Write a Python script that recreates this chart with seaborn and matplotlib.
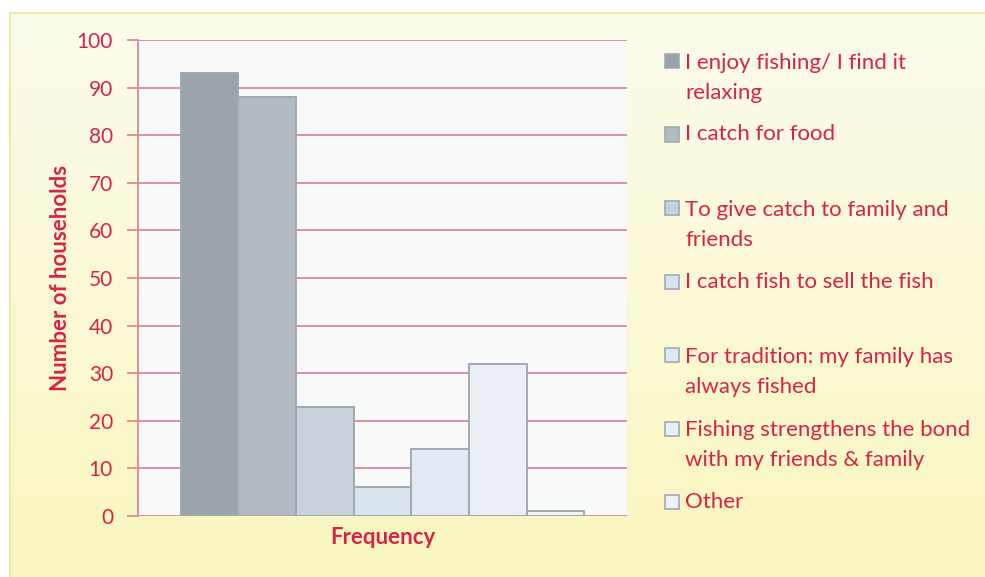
import matplotlib.pyplot as plt
import matplotlib.patches as mpatches
import numpy as np
import pandas as pd
import seaborn as sb

# data
reasons = ['I enjoy fishing/ I find it\nrelaxing',
           'I catch for food',
           'To give catch to family and\nfriends',
           'I catch fish to sell the fish',
           'For tradition: my family has\nalways fished',
           'Fishing strengthens the bond\nwith my friends & family',
           'Other']
households = [93, 88, 23, 6, 14, 32, 1]
bar_colors = ['#99a3ad', '#b0bac4', '#c6d2de', '#d7e4f1', '#dfe9f5', '#e8eff8', '#edf2fa']
y_ticks = [0, 10, 20, 30, 40, 50, 60, 70, 80, 90, 100]

text_red = '#d6234a'
grid_red = '#dc8a96'
edge_gray = '#a0aab4'

sb.set_style('white')
plt.rcParams['font.family'] = ['Lato', 'DejaVu Sans']

df = pd.DataFrame({'group': ['Frequency'] * len(reasons), 'reason': reasons, 'value': households})

fig = plt.figure(figsize=(9.85, 5.77), dpi=100)
fig.patch.set_facecolor('white')

# yellow gradient panel behind the chart (runs off the right and bottom edges)
bg = fig.add_axes([10 / 985, -0.01, 1.0, 1 - 13 / 577 + 0.01], zorder=-1)
grad = np.linspace(0, 1, 256)[:, None]
top = np.array([252, 252, 236]) / 255
bottom = np.array([250, 246, 190]) / 255
img = top[None, None, :] * (1 - grad[:, :, None]) + bottom[None, None, :] * grad[:, :, None]
bg.imshow(img, aspect='auto', extent=[0, 1, 0, 1])
bg.set_xticks([])
bg.set_yticks([])
for s in bg.spines.values():
    s.set_color('#f2e8a8')
    s.set_linewidth(1.5)

ax = fig.add_axes([138 / 985, 61 / 577, 489 / 985, 476 / 577])
ax.set_facecolor('#f8f9f9')
sb.barplot(data=df, x='group', y='value', hue='reason', palette=bar_colors,
           width=0.826, edgecolor=edge_gray, linewidth=1.4, legend=False, ax=ax, zorder=3)
ax.set_xlim(-0.5, 0.5)
ax.set_ylim(0, 100)
ax.set_yticks(y_ticks)
ax.yaxis.grid(True, color=grid_red, linewidth=1.3, zorder=0)
ax.set_axisbelow(True)
ax.tick_params(axis='y', colors=grid_red, labelcolor=text_red, labelsize=15,
               length=8, width=1.3, left=True, pad=10)
ax.tick_params(axis='x', bottom=False, labelbottom=False)
for side in ['top', 'right', 'bottom']:
    ax.spines[side].set_visible(False)
ax.spines['left'].set_color(grid_red)
ax.spines['left'].set_linewidth(1.3)
ax.set_ylabel('Number of households', fontsize=16, fontweight='bold', color=text_red, labelpad=4)
ax.set_xlabel('Frequency', fontsize=16, fontweight='bold', color=text_red, labelpad=8)

# legend, placed by hand like the original
for i, (lab, col) in enumerate(zip(reasons, bar_colors)):
    y_px = 61 + i * 73.5
    yf = 1 - y_px / 577
    fig.patches.append(mpatches.Rectangle((665 / 985, yf - 7 / 577), 14 / 985, 14 / 577,
                                          transform=fig.transFigure, facecolor=col,
                                          edgecolor=edge_gray, linewidth=1.2))
    if '\n' in lab:
        fig.text(685 / 985, 1 - (y_px - 8) / 577, lab, color=text_red, fontsize=16,
                 va='top', ha='left', linespacing=1.6)
    else:
        fig.text(685 / 985, yf, lab, color=text_red, fontsize=16, va='center', ha='left')

fig.savefig('out.png', dpi=100)
